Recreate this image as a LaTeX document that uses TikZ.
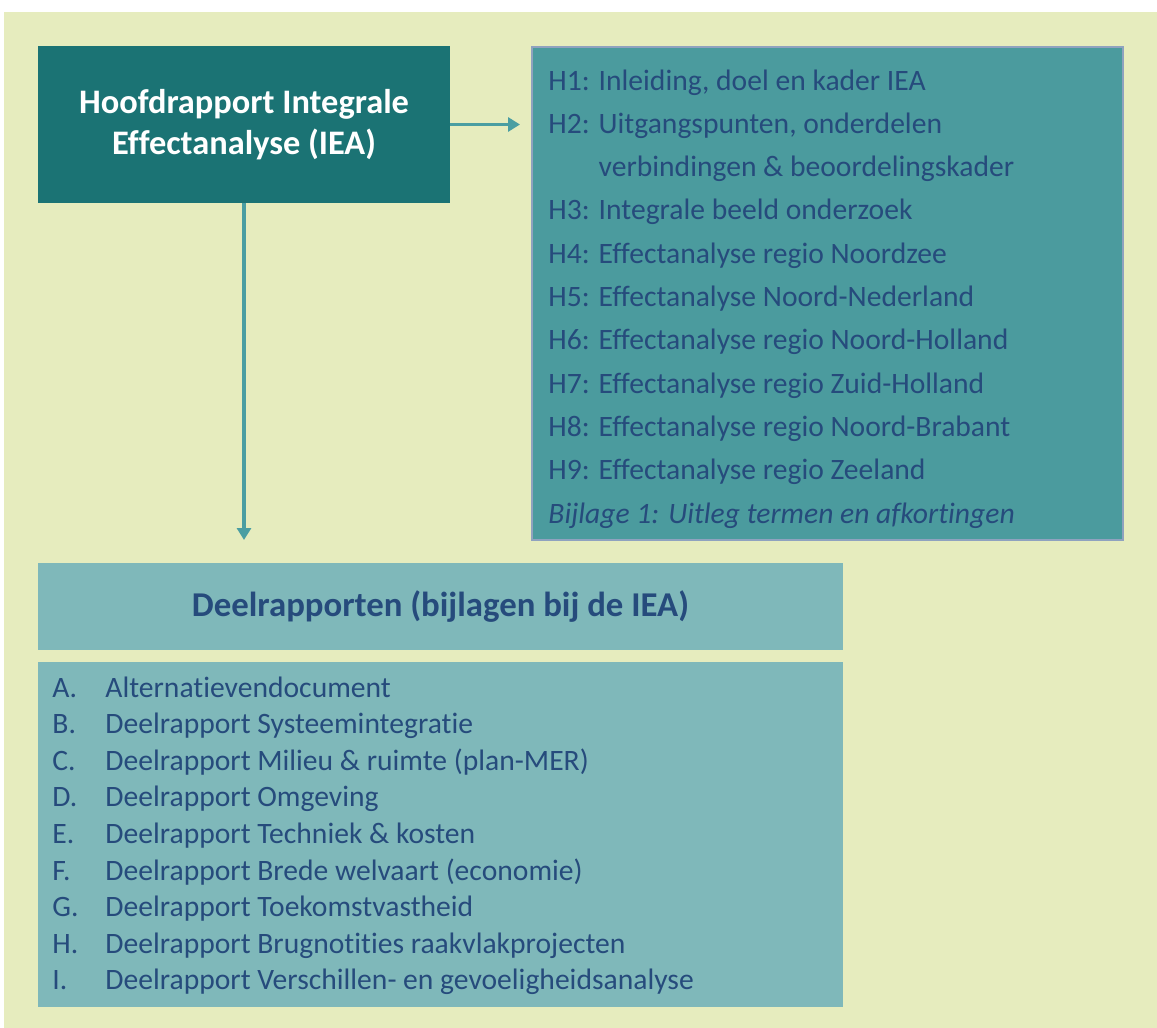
\documentclass[tikz,border=0pt]{standalone}
\usepackage{fontspec}
\setmainfont{Carlito}[Script=Latin, Ligatures={NoCommon,NoContextual}, RawFeature={-liga;-clig}]
\usetikzlibrary{arrows.meta}
\definecolor{achtergrond}{HTML}{E6ECBE}
\definecolor{donkerteal}{HTML}{1B7374}
\definecolor{middenteal}{HTML}{4B9B9E}
\definecolor{lichtteal}{HTML}{7FB8BA}
\definecolor{randblauw}{HTML}{8FA2BF}
\definecolor{tekstblauw}{HTML}{264B7C}
\definecolor{pijlkleur}{HTML}{4A9EA2}
\begin{document}
\begin{tikzpicture}[x=0.5pt, y=-0.5pt,
		blok/.style={rectangle, inner sep=0pt, outer sep=0pt},
		pijl/.style={draw=pijlkleur, line width=1.6pt, -{Triangle[length=6pt, width=7pt]}},
		regel/.style={anchor=base west, inner sep=0pt, text=tekstblauw, font=\fontsize{14.8}{17}\selectfont}]
			\useasboundingbox (0,0) rectangle (1157,1028);
			\fill[achtergrond] (4,12) rectangle (1157,1028);
			% hoofdrapport
			\node[blok, fill=donkerteal, minimum width=206pt, minimum height=78.5pt, text=white, align=center,
				font=\bfseries\fontsize{17.2}{20.5}\selectfont] (hoofd) at (244,124.5) {Hoofdrapport Integrale\\Effectanalyse (IEA)};
			\node[blok, fill=middenteal, draw=randblauw, line width=1pt, minimum width=295.5pt, minimum height=246.5pt] (hoofdstukken) at (827.5,293.5) {};
			\def\regelafstand{43.3}
			\foreach \tekst [count=\i] in {{H1: Inleiding, doel en kader IEA}, {H2: Uitgangspunten, onderdelen},
				{\hphantom{H2: }verbindingen \& beoordelingskader}, {H3: Integrale beeld onderzoek},
				{H4: Effectanalyse regio Noordzee}, {H5: Effectanalyse Noord-Nederland},
				{H6: Effectanalyse regio Noord-Holland}, {H7: Effectanalyse regio Zuid-Holland},
				{H8: Effectanalyse regio Noord-Brabant}, {H9: Effectanalyse regio Zeeland},
				{\itshape Bijlage 1: Uitleg termen en afkortingen}} {
				\node[regel] (h\i) at (548, {90 + \regelafstand*(\i - 1)}) {\tekst};
			}
			% deelrapporten
			\node[blok, fill=lichtteal, minimum width=402.5pt, minimum height=43.5pt, text=tekstblauw,
				font=\bfseries\fontsize{17.4}{20}\selectfont] (deelkop) at (440.5,606.5) {Deelrapporten (bijlagen bij de IEA)};
			\node[blok, fill=lichtteal, minimum width=402.5pt, minimum height=172.5pt] (deellijst) at (440.5,834.5) {};
			\foreach \letter/\tekst [count=\i] in {A./Alternatievendocument, B./Deelrapport Systeemintegratie,
				C./{Deelrapport Milieu \& ruimte (plan-MER)}, D./Deelrapport Omgeving, E./{Deelrapport Techniek \& kosten},
				F./{Deelrapport Brede welvaart (economie)}, G./Deelrapport Toekomstvastheid,
				H./Deelrapport Brugnotities raakvlakprojecten, I./Deelrapport Verschillen- en gevoeligheidsanalyse} {
				\node[regel] (deel\i) at (52, {697 + 36.6*(\i - 1)}) {\makebox[26.5pt][l]{\letter}\tekst};
			}
			% pijlen
			\coordinate (rechts) at (520,124.5);
			\coordinate (onder) at (244,540);
			\draw[pijl] (hoofd.east) -- (rechts);
			\draw[pijl] (hoofd.south) -- (onder);
		\end{tikzpicture}
\end{document}
